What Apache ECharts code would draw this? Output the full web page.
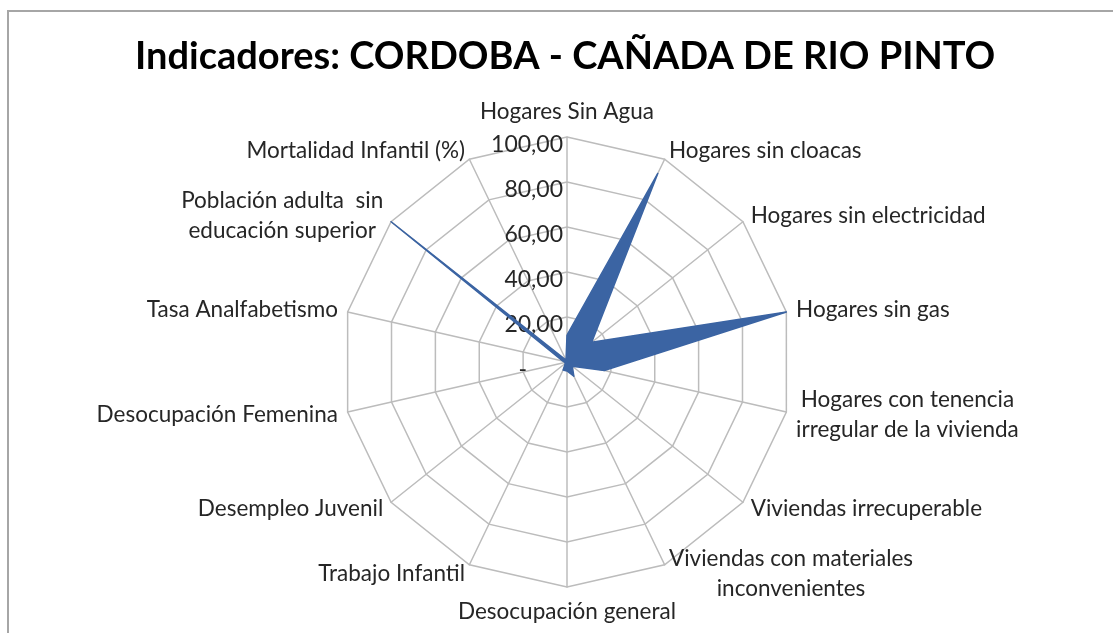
<!DOCTYPE html>
<html>
<head>
<meta charset="utf-8">
<script src="https://cdn.jsdelivr.net/npm/echarts@6/dist/echarts.min.js"></script>
<style>
html, body { margin: 0; padding: 0; background: #fff; }
#frame { position: absolute; left: 7px; top: 10px; width: 1200px; height: 700px;
         border-left: 2px solid #a6a6a6; border-top: 2px solid #a6a6a6; }
#chart { position: absolute; left: 0; top: 0; width: 1113px; height: 633px; }
</style>
</head>
<body>
<div id="frame"></div>
<div id="chart"></div>
<script>
// indicators listed clockwise from the top, as in the original
var categories = [
    'Hogares Sin Agua',
    'Hogares sin cloacas',
    'Hogares sin electricidad',
    'Hogares sin gas',
    'Hogares con tenencia\nirregular de la vivienda',
    'Viviendas irrecuperable',
    'Viviendas con materiales\ninconvenientes',
    'Desocupación general',
    'Trabajo Infantil',
    'Desempleo Juvenil',
    'Desocupación Femenina',
    'Tasa Analfabetismo',
    'Población adulta  sin\neducación superior',
    'Mortalidad Infantil (%)'
];
var values = [12, 93, 14, 100, 17, 3, 7, 4, 4, 1, 1, 2, 100, 1];
var tickLabels = ['-', '20,00', '40,00', '60,00', '80,00', '100,00'];
var maxValue = 100;

// echarts lays radar axes out counter-clockwise, so walk the list backwards
var order = [0];
for (var i = categories.length - 1; i > 0; i--) order.push(i);

var indicator = order.map(function (k, n) {
    var ind = { name: categories[k], max: maxValue, min: 0 };
    if (n > 0) ind.axisLabel = { show: false };
    return ind;
});

var txt = '#262626';
var chart = echarts.init(document.getElementById('chart'));
chart.setOption({
    animation: false,
    title: {
        text: 'Indicadores: CORDOBA - CAÑADA DE RIO PINTO',
        left: 130,
        top: 33,
        textStyle: { fontFamily: 'Lato', fontWeight: 'bold', fontSize: 38, color: '#000' }
    },
    radar: {
        center: [567, 362],
        radius: 225,
        startAngle: 90,
        splitNumber: 5,
        shape: 'polygon',
        nameGap: 10,
        axisName: {
            color: txt, fontFamily: 'Lato', fontSize: 22.5,
            formatter: function (name) {
                return name.split('\n').map(function (l) { return '{c|' + l + '}'; }).join('\n');
            },
            rich: { c: { align: 'center', color: txt, fontFamily: 'Lato', fontSize: 22.5, lineHeight: 30 } }
        },
        axisLine: { lineStyle: { color: '#bcbcbc', width: 1.5 } },
        splitLine: { lineStyle: { color: '#bcbcbc', width: 1.5 } },
        splitArea: { show: false },
        axisTick: { show: false },
        axisLabel: {
            show: true,
            color: txt,
            fontFamily: 'Lato',
            fontSize: 23,
            margin: 4,
            padding: [16, 0, 0, 0],
            formatter: function (v) {
                var n = Math.round(v / (maxValue / 5));
                return n === 0 ? '{z|' + tickLabels[0] + '}' : tickLabels[n];
            },
            rich: { z: { color: txt, fontFamily: 'Lato', fontSize: 23, padding: [0, 36, 0, 0] } }
        },
        indicator: indicator
    },
    series: [{
        type: 'radar',
        symbol: 'none',
        lineStyle: { color: '#3b64a3', width: 1.5 },
        areaStyle: { color: '#3b64a3', opacity: 1 },
        data: [{ value: order.map(function (k) { return values[k]; }), name: 'Indicadores' }]
    }]
});
</script>
</body>
</html>
